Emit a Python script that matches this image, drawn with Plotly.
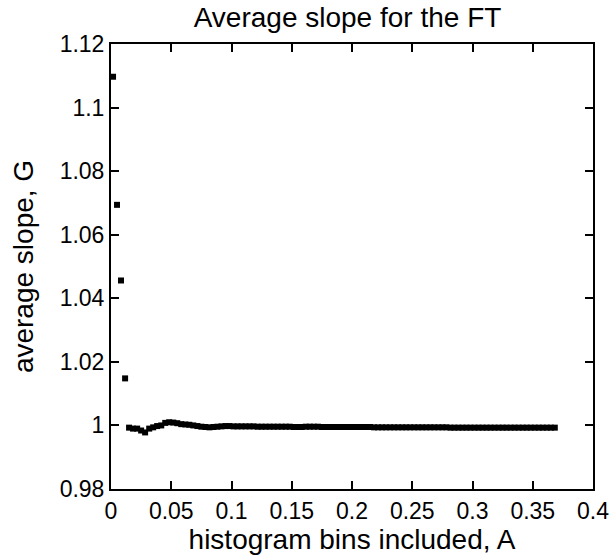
import plotly.graph_objects as go

# fraction of histogram bins included, A
bins_included = [
    0.0017, 0.0050, 0.0083, 0.0117, 0.0150, 0.0183, 0.0217, 0.0250, 0.0283, 0.0317,
    0.0350, 0.0383, 0.0417, 0.0450, 0.0483, 0.0517, 0.0550, 0.0583, 0.0617, 0.0650,
    0.0683, 0.0717, 0.0750, 0.0783, 0.0817, 0.0850, 0.0883, 0.0917, 0.0950, 0.0983,
    0.1017, 0.1050, 0.1083, 0.1117, 0.1150, 0.1183, 0.1217, 0.1250, 0.1283, 0.1317,
    0.1350, 0.1383, 0.1417, 0.1450, 0.1483, 0.1517, 0.1550, 0.1583, 0.1617, 0.1650,
    0.1683, 0.1717, 0.1750, 0.1783, 0.1817, 0.1850, 0.1883, 0.1917, 0.1950, 0.1983,
    0.2017, 0.2050, 0.2083, 0.2117, 0.2150, 0.2183, 0.2217, 0.2250, 0.2283, 0.2317,
    0.2350, 0.2383, 0.2417, 0.2450, 0.2483, 0.2517, 0.2550, 0.2583, 0.2617, 0.2650,
    0.2683, 0.2717, 0.2750, 0.2783, 0.2817, 0.2850, 0.2883, 0.2917, 0.2950, 0.2983,
    0.3017, 0.3050, 0.3083, 0.3117, 0.3150, 0.3183, 0.3217, 0.3250, 0.3283, 0.3317,
    0.3350, 0.3383, 0.3417, 0.3450, 0.3483, 0.3517, 0.3550, 0.3583, 0.3617, 0.3650,
    0.3683,
]

# average slope, G
average_slope = [
    1.1097, 1.0694, 1.0456, 1.0148, 0.9993, 0.9990, 0.9990, 0.9984, 0.9978, 0.9990,
    0.9994, 0.9998, 1.0000, 1.0008, 1.0010, 1.0009, 1.0007, 1.0004, 1.0003, 1.0002,
    1.0000, 0.9998, 0.9996, 0.9995, 0.9994, 0.9995, 0.9996, 0.9997, 0.9998, 0.9998,
    0.9997, 0.9997, 0.9997, 0.9997, 0.9997, 0.9997, 0.9996, 0.9996, 0.9996, 0.9996,
    0.9996, 0.9996, 0.9996, 0.9996, 0.9996, 0.9995, 0.9995, 0.9995, 0.9996, 0.9996,
    0.9996, 0.9996, 0.9995, 0.9995, 0.9995, 0.9995, 0.9995, 0.9995, 0.9995, 0.9995,
    0.9995, 0.9995, 0.9995, 0.9995, 0.9995, 0.9994, 0.9994, 0.9994, 0.9994, 0.9994,
    0.9994, 0.9994, 0.9994, 0.9994, 0.9994, 0.9994, 0.9994, 0.9994, 0.9994, 0.9994,
    0.9994, 0.9994, 0.9994, 0.9994, 0.9993, 0.9993, 0.9993, 0.9993, 0.9993, 0.9993,
    0.9993, 0.9993, 0.9993, 0.9993, 0.9993, 0.9993, 0.9993, 0.9993, 0.9993, 0.9993,
    0.9993, 0.9993, 0.9993, 0.9993, 0.9993, 0.9993, 0.9993, 0.9993, 0.9993, 0.9993,
    0.9993,
]

x_ticks = [0, 0.05, 0.1, 0.15, 0.2, 0.25, 0.3, 0.35, 0.4]
x_tick_labels = ["0", "0.05", "0.1", "0.15", "0.2", "0.25", "0.3", "0.35", "0.4"]
y_ticks = [0.98, 1.0, 1.02, 1.04, 1.06, 1.08, 1.1, 1.12]
y_tick_labels = ["0.98", "1", "1.02", "1.04", "1.06", "1.08", "1.1", "1.12"]

FONT = "Liberation Sans, Arial, Helvetica, sans-serif"

fig = go.Figure()
fig.add_trace(go.Scatter(
    x=bins_included, y=average_slope, mode="markers",
    marker=dict(symbol="square", size=6, color="black", line=dict(width=0)),
    showlegend=False,
))

axis_common = dict(
    showgrid=False, zeroline=False, showline=True, linecolor="black", linewidth=2,
    mirror="ticks", ticks="inside", ticklen=8, tickwidth=1.5, tickcolor="black",
    tickfont=dict(family=FONT, size=23, color="black"), automargin=False,
)

fig.update_layout(
    width=614, height=556,
    margin=dict(l=111, r=21, t=44, b=67),
    paper_bgcolor="white", plot_bgcolor="white",
    font=dict(family=FONT, color="black"),
    title=dict(text="Average slope for the FT", x=0.566, xanchor="center",
               y=0.969, yanchor="middle", font=dict(family=FONT, size=28, color="black")),
    xaxis=dict(range=[0, 0.4], tickvals=x_ticks, ticktext=x_tick_labels,
               title=dict(text="histogram bins included, A", standoff=0,
                          font=dict(family=FONT, size=28, color="black")),
               **axis_common),
    yaxis=dict(range=[0.98, 1.12], tickvals=y_ticks, ticktext=y_tick_labels,
               title=dict(text="average slope, G", standoff=18,
                          font=dict(family=FONT, size=28, color="black")),
               **axis_common),
)

fig.write_html("out.html")
